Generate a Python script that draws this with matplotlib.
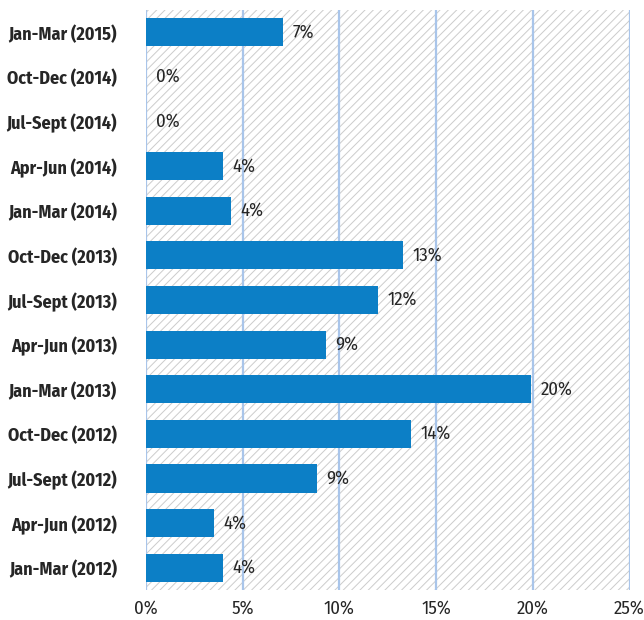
import matplotlib.pyplot as plt
from matplotlib.patches import Rectangle

periods = ["Jan-Mar (2015)", "Oct-Dec (2014)", "Jul-Sept (2014)", "Apr-Jun (2014)",
           "Jan-Mar (2014)", "Oct-Dec (2013)", "Jul-Sept (2013)", "Apr-Jun (2013)",
           "Jan-Mar (2013)", "Oct-Dec (2012)", "Jul-Sept (2012)", "Apr-Jun (2012)",
           "Jan-Mar (2012)"]
values = [7.06, 0, 0, 3.96, 4.4, 13.27, 12.0, 9.3, 19.9, 13.7, 8.82, 3.51, 3.96]
value_labels = ["7%", "0%", "0%", "4%", "4%", "13%", "12%", "9%", "20%", "14%", "9%", "4%", "4%"]
xticks = [0, 5, 10, 15, 20, 25]

plt.rcParams['font.family'] = ['Fira Sans Condensed', 'Roboto Condensed', 'Asap Condensed', 'DejaVu Sans']
plt.rcParams['hatch.linewidth'] = 0.7

fig = plt.figure(figsize=(6.44, 6.20), dpi=100)
ax = fig.add_axes([0.2267, 0.0484, 0.7508, 0.9355])

# hatched background
bg = Rectangle((0, 0), 1, 1, transform=ax.transAxes, facecolor='white',
               edgecolor='#cccccc', linewidth=0, hatch='////', zorder=0)
ax.add_patch(bg)

ypos = list(range(len(periods)))
ax.barh(ypos, values, height=0.63, color='#0c7fc6', zorder=3)

for y, v, lab in zip(ypos, values, value_labels):
    ax.text(v + 0.5, y, lab, va='center', ha='left', fontsize=13.5, color='#262626', zorder=4)

for t in xticks:
    ax.axvline(t, color='#a9c5ea', linewidth=1.6, zorder=1)

ax.set_xlim(0, 25)
ax.set_ylim(len(periods) - 0.5, -0.5)
ax.set_yticks(ypos)
ax.set_yticklabels(periods, fontsize=13, fontweight='bold', color='#262626')
ax.set_xticks(xticks)
ax.set_xticklabels([f"{t}%" for t in xticks], fontsize=13.5, color='#262626')
ax.tick_params(axis='y', length=0, pad=21)
ax.tick_params(axis='x', length=0, pad=7)
for s in ax.spines.values():
    s.set_visible(False)

fig.savefig('out.png', dpi=100)
